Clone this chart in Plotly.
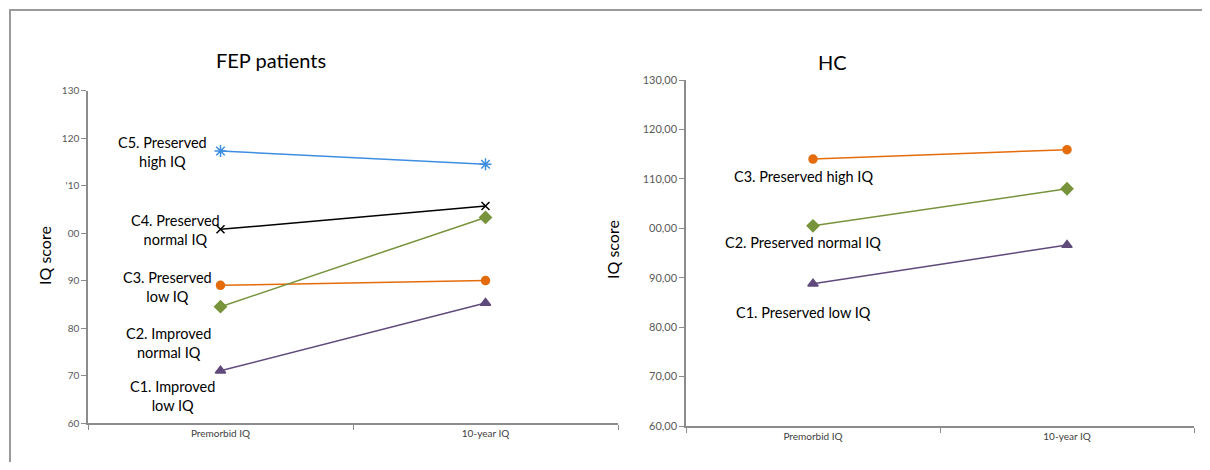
import plotly.graph_objects as go

OFF = 8  # page body margin
W, H = 1210 - 2 * OFF, 470 - 2 * OFF

categories = ["Premorbid IQ", "10-year IQ"]

# FEP patients
fep_names = ["C5. Preserved<br>high IQ", "C4. Preserved<br>normal IQ", "C3. Preserved<br>low IQ",
             "C2. Improved<br>normal IQ", "C1. Improved<br>low IQ"]
fep_values = {
    "C5": [117.3, 114.5],
    "C4": [100.8, 105.7],
    "C3": [89.0, 90.0],
    "C2": [84.5, 103.3],
    "C1": [71.0, 85.3],
}
fep_label_y = [117.0, 100.7, 88.6, 76.8, 65.6]
fep_label_shift = [-58, -45, -53, -52, -48]
fep_ticks = [60, 70, 80, 90, 100, 110, 120, 130]
fep_ticktext = ["60", "70", "80", "90", "00", "'10", "120", "130"]

# Healthy controls
hc_names = ["C3. Preserved high IQ", "C2. Preserved normal IQ", "C1. Preserved low IQ"]
hc_values = {
    "C3": [114.0, 115.9],
    "C2": [100.5, 108.0],
    "C1": [88.8, 96.6],
}
hc_label_y = [110.5, 97.1, 82.9]
hc_ticks = [60, 70, 80, 90, 100, 110, 120, 130]
hc_ticktext = ["60,00", "70,00", "80,00", "90,00", "00,00", "110,00", "120,00", "130,00"]

styles = {
    "C5": dict(color="#3d8ee0", symbol="asterisk-open", size=10),
    "C4": dict(color="#000000", symbol="x-thin-open", size=8),
    "C3": dict(color="#e46c0a", symbol="circle", size=8),
    "C2": dict(color="#77933c", symbol="diamond", size=9),
    "C1": dict(color="#604a7b", symbol="triangle-up", size=9),
}

fig = go.Figure()

for k, v in fep_values.items():
    s = styles[k]
    fig.add_trace(go.Scatter(x=categories, y=v, mode="lines+markers", xaxis="x", yaxis="y",
                             line=dict(color=s["color"], width=1.5),
                             marker=dict(symbol=s["symbol"], size=s["size"], color=s["color"],
                                         line=dict(color=s["color"], width=1.5)),
                             showlegend=False, hoverinfo="skip"))
for k, v in hc_values.items():
    s = styles[k]
    fig.add_trace(go.Scatter(x=categories, y=v, mode="lines+markers", xaxis="x2", yaxis="y2",
                             line=dict(color=s["color"], width=1.5),
                             marker=dict(symbol=s["symbol"], size=s["size"], color=s["color"],
                                         line=dict(color=s["color"], width=1.5)),
                             showlegend=False, hoverinfo="skip"))

def px(x):
    return (x - OFF) / W

def py(y):
    return 1 - (y - OFF) / H

FONT = "Lato, 'Open Sans', sans-serif"
axis_common = dict(showline=True, linecolor="#8c8c8c", linewidth=1.5, ticks="outside",
                   ticklen=5, tickcolor="#8c8c8c", showgrid=False, zeroline=False,
                   fixedrange=True, automargin=False)

fig.update_layout(
    width=W, height=H, autosize=False,
    margin=dict(l=0, r=0, t=0, b=0, autoexpand=False),
    paper_bgcolor="white", plot_bgcolor="white",
    font=dict(family=FONT, color="#000"),
    xaxis=dict(domain=[px(88), px(618)], anchor="y", type="category", tickson="boundaries",
               range=[-0.5, 1.5],
               tickfont=dict(size=10, color="#404040"), **axis_common),
    yaxis=dict(domain=[py(423), py(90.7)], anchor="x", range=[60, 130], tickvals=fep_ticks,
               ticktext=fep_ticktext, tickfont=dict(size=10, color="#595959"), **axis_common),
    xaxis2=dict(domain=[px(686), px(1194)], anchor="y2", type="category", tickson="boundaries",
                range=[-0.5, 1.5],
                tickfont=dict(size=10, color="#404040"), **axis_common),
    yaxis2=dict(domain=[py(426), py(80)], anchor="x2", range=[60, 130], tickvals=hc_ticks,
                ticktext=hc_ticktext, tickfont=dict(size=11, color="#595959"), **axis_common),
)

ann = []
for name, y, sh in zip(fep_names, fep_label_y, fep_label_shift):
    ann.append(dict(x=categories[0], y=y, xref="x", yref="y", text=name, showarrow=False,
                    xanchor="center", yanchor="middle", xshift=sh, align="center",
                    font=dict(size=14.5, color="#000")))
for name, y in zip(hc_names, hc_label_y):
    ann.append(dict(x=categories[0], y=y, xref="x2", yref="y2", text=name, showarrow=False,
                    xanchor="center", yanchor="middle", xshift=-10, align="center",
                    font=dict(size=14.5, color="#000")))
ann.append(dict(x=px(271), y=py(60), xref="paper", yref="paper", text="FEP patients",
                showarrow=False, xanchor="center", yanchor="middle", font=dict(size=20)))
ann.append(dict(x=px(832), y=py(62), xref="paper", yref="paper", text="HC",
                showarrow=False, xanchor="center", yanchor="middle", font=dict(size=20)))
ann.append(dict(x=px(44), y=py(256), xref="paper", yref="paper", text="IQ score",
                showarrow=False, textangle=-90, xanchor="center", yanchor="middle",
                font=dict(size=16)))
ann.append(dict(x=px(612), y=py(250), xref="paper", yref="paper", text="IQ score",
                showarrow=False, textangle=-90, xanchor="center", yanchor="middle",
                font=dict(size=16)))
fig.update_layout(annotations=ann)

# outer frame (top and left border)
fig.add_shape(type="line", xref="paper", yref="paper", x0=px(9), x1=1, y0=py(10), y1=py(10),
              line=dict(color="#9a9a9a", width=2))
fig.add_shape(type="line", xref="paper", yref="paper", x0=px(10), x1=px(10), y0=py(10), y1=0,
              line=dict(color="#9a9a9a", width=2))

fig.write_html("out.html")
